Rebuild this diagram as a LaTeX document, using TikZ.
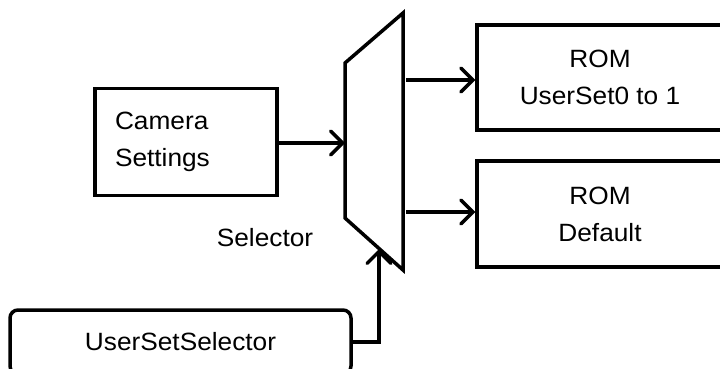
\documentclass[tikz,border=0pt]{standalone}
\usepackage{fontspec}
\setmainfont{Liberation Sans}[FakeStretch=1.05]
\usetikzlibrary{arrows.meta}

\tikzset{
  blk/.style={draw, line width=3.5pt, inner sep=0pt},
  link/.style={line width=3.5pt, -{Straight Barb[length=12pt,width=24pt,line cap=round]}},
}

\begin{document}
\begin{tikzpicture}[x=1pt,y=-1pt,font=\fontsize{25}{37}\selectfont]
\clip (0,0) rectangle (720,369);
% selector
\draw[line width=3.5pt] (345,63) -- (403,13) -- (403,270) -- (345,218) -- cycle;
\coordinate (mux-in) at (345,143);
\coordinate (mux-o1) at (406,80);
\coordinate (mux-o2) at (406,212);
\coordinate (mux-sel) at (379,249);
\node (sel-lbl) at (265,238) {Selector};
% blocks
\node[blk, minimum width=182, minimum height=107, text width=142, inner xsep=20, align=left] (cam) at (186,142) {Camera\\Settings};
\node[blk, minimum width=246, minimum height=105, align=center] (rom1) at (600,77.5) {ROM\\UserSet0 to 1};
\node[blk, minimum width=246, minimum height=106, align=center] (rom2) at (600,214) {ROM\\Default};
\node[blk, rounded corners=8pt, minimum width=341, minimum height=64] (usel) at (180.5,342) {UserSetSelector};
% connectors
\draw[link] (cam.east |- mux-in) -- (mux-in);
\draw[link] (mux-o1) -- (mux-o1 -| rom1.west);
\draw[link] (mux-o2) -- (mux-o2 -| rom2.west);
\draw[link] (usel.east) -| (mux-sel);
\end{tikzpicture}
\end{document}
